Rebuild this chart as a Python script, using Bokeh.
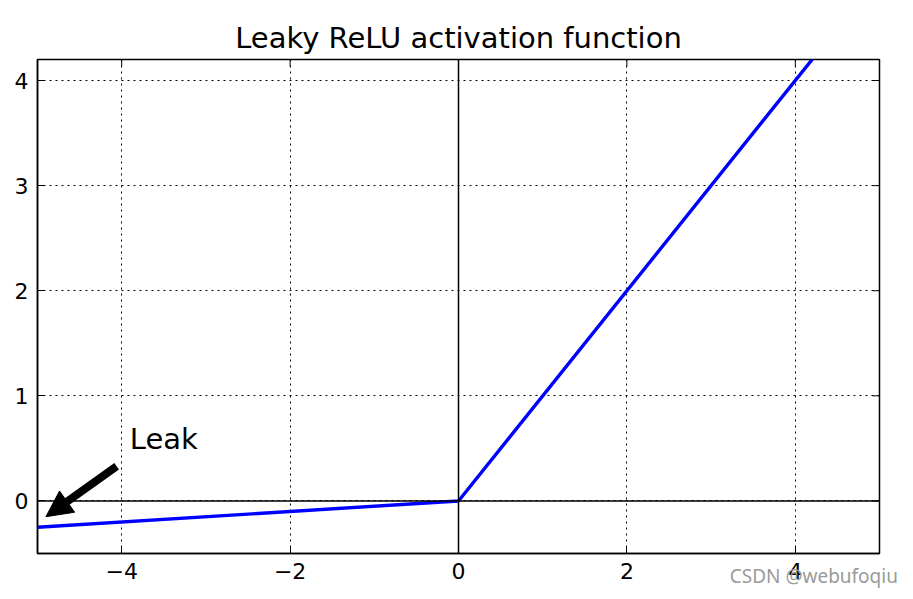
from math import pi
from bokeh.plotting import figure
from bokeh.models import (FixedTicker, Span, Arrow, NormalHead, Label, Range1d, LinearAxis)
from bokeh.embed import file_html
from bokeh.resources import INLINE

# ---- data ----
z_values = [-5.0, 0.0, 5.0]
leaky_values = [-0.25, 0.0, 5.0]
x_min, x_max = -5.0, 5.0
y_min, y_max = -0.5, 4.2
x_ticks = [-4, -2, 0, 2, 4]
x_tick_labels = ["\u22124", "\u22122", "0", "2", "4"]
y_ticks = [0, 1, 2, 3, 4]
y_tick_labels = ["0", "1", "2", "3", "4"]
title_text = "Leaky ReLU activation function"
leak_text = "Leak"
leak_text_pos = (-3.5, 0.59)
arrow_start = (-4.06, 0.33)
arrow_end = (-4.90, -0.15)
watermark = "CSDN @webufoqiu"
watermark_x = 4.22   # horizontal centre of the watermark, in x units

FONT = "DejaVu Sans"
TICK_LEN = 7

p = figure(width=905, height=591, output_backend="svg", toolbar_location=None,
           x_range=Range1d(x_min, x_max), y_range=Range1d(y_min, y_max),
           min_border_left=37, min_border_right=26, min_border_top=59, min_border_bottom=36,
           title=title_text)
p.title.text_font = FONT
p.title.text_font_size = "29px"
p.title.text_font_style = "normal"
p.title.align = "center"
p.title.text_color = "black"

p.outline_line_color = "black"
p.outline_line_width = 1.5
p.background_fill_color = "white"
p.border_fill_color = "white"

xt = FixedTicker(ticks=x_ticks)
yt = FixedTicker(ticks=y_ticks)

for ax in p.xaxis:
    ax.ticker = xt
    ax.major_label_overrides = {t: l for t, l in zip(x_ticks, x_tick_labels)}
for ax in p.yaxis:
    ax.ticker = yt
    ax.major_label_overrides = {t: l for t, l in zip(y_ticks, y_tick_labels)}

for ax in p.axis:
    ax.major_tick_in = TICK_LEN
    ax.major_tick_out = 0
    ax.minor_tick_in = 0
    ax.minor_tick_out = 0
    ax.major_tick_line_width = 1
    ax.axis_line_width = 1.5
    ax.major_label_text_font = FONT
    ax.major_label_text_font_size = "22px"
    ax.major_label_text_color = "black"
    ax.major_label_standoff = 9

# watermark: a second, mark-less bottom axis whose single tick label is pulled up
wm_axis = LinearAxis(ticker=FixedTicker(ticks=[watermark_x]),
                     major_label_overrides={watermark_x: watermark},
                     major_tick_in=0, major_tick_out=0, minor_tick_in=0, minor_tick_out=0,
                     axis_line_color=None, major_tick_line_color=None,
                     major_label_standoff=-19,
                     major_label_text_font="Noto Sans", major_label_text_font_size="19px",
                     major_label_text_color="#9a9a9a")
p.add_layout(wm_axis, "below")

# inward ticks on the top and right frame edges
p.ray(x=x_ticks, y=[y_max] * len(x_ticks), length=TICK_LEN, length_units="screen",
      angle=-pi / 2, line_color="black", line_width=1)
p.ray(x=[x_max] * len(y_ticks), y=y_ticks, length=TICK_LEN, length_units="screen",
      angle=pi, line_color="black", line_width=1)

p.xgrid.ticker = xt
p.ygrid.ticker = yt
for g in (p.xgrid[0], p.ygrid[0]):
    g.grid_line_color = "black"
    g.grid_line_dash = "2 4"
    g.grid_line_width = 1

p.add_layout(Span(location=0, dimension="width", line_color="black", line_width=1.5))
p.add_layout(Span(location=0, dimension="height", line_color="black", line_width=1.5))

p.line(z_values, leaky_values, line_color="#0000ff", line_width=3.4)

p.add_layout(Arrow(end=NormalHead(size=26, fill_color="black", line_color="black"),
                   x_start=arrow_start[0], y_start=arrow_start[1],
                   x_end=arrow_end[0], y_end=arrow_end[1],
                   line_color="black", line_width=8))
p.add_layout(Label(x=leak_text_pos[0], y=leak_text_pos[1], text=leak_text, text_align="center",
                   text_baseline="alphabetic", text_font=FONT, text_font_size="29px", text_color="black"))

open("out.html", "w").write(file_html(p, INLINE))
